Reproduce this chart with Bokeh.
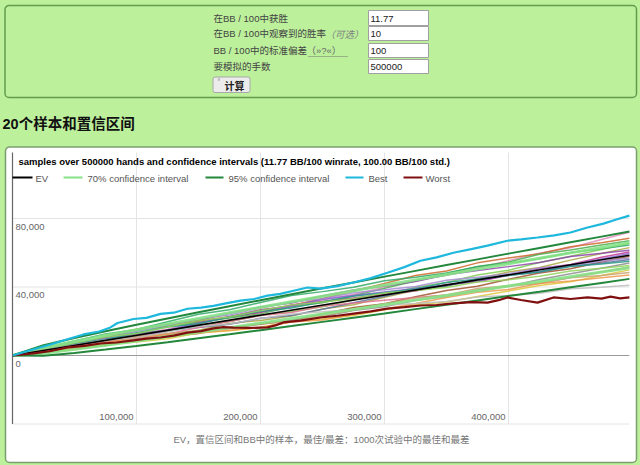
from bokeh.plotting import figure
from bokeh.models import Range1d, Quad
from bokeh.core.properties import value
from bokeh.embed import file_html
from bokeh.resources import INLINE

# ---------------- data ----------------
TITLE = "samples over 500000 hands and confidence intervals (11.77 BB/100 winrate, 100.00 BB/100 std.)"
HEADING = "20个样本和置信区间"
CAPTION = "EV，置信区间和BB中的样本，最佳/最差：1000次试验中的最佳和最差"
FORM_LABELS = ["在BB / 100中获胜", "在BB / 100中观察到的胜率", "BB / 100中的标准偏差", "要模拟的手数"]
FORM_HINTS = ["", "（可选）", "（»?«）", ""]
FORM_VALUES = ["11.77", "10", "100", "500000"]
BUTTON_TEXT = "计算"
LEGEND_NAMES = ["EV", "70% confidence interval", "95% confidence interval", "Best", "Worst"]

X_TICKS = [100000, 200000, 300000, 400000]
X_TICK_LABELS = ["100,000", "200,000", "300,000", "400,000"]
Y_TICKS = [0, 40000, 80000]
Y_TICK_LABELS = ["0", "40,000", "80,000"]

# hands (thousands)
HANDS_K = [0, 25, 50, 75, 100, 125, 150, 175, 200, 225, 250, 275, 300, 325, 350,
           375, 400, 425, 450, 475, 497.5]
# EV (thousands of BB)
EV_X_K = [0, 497.5]
EV_Y_K = [0, 58.56]
# confidence intervals (thousands of BB)
CI70_HI = [0, 4.58, 8.21, 11.67, 15.05, 18.37, 21.67, 24.93, 28.17, 31.39, 34.61, 37.80,
           40.98, 44.16, 47.33, 50.48, 53.63, 56.77, 59.92, 63.05, 65.87]
CI70_LO = [0, 1.30, 3.57, 5.99, 8.49, 11.05, 13.65, 16.27, 18.91, 21.57, 24.25, 26.94,
           29.64, 32.34, 35.07, 37.80, 40.53, 43.27, 46.02, 48.77, 51.25]
CI95_HI = [0, 6.04, 10.27, 14.20, 17.97, 21.64, 25.25, 28.80, 32.31, 35.78, 39.23, 42.65,
           46.05, 49.42, 52.80, 56.14, 59.48, 62.80, 66.12, 69.42, 72.38]
CI95_LO = [0, -0.16, 1.51, 3.46, 5.57, 7.78, 10.07, 12.40, 14.77, 17.18, 19.63, 22.09,
           24.57, 27.08, 29.60, 32.14, 34.68, 37.24, 39.82, 42.40, 44.74]

BEST_X_K = [0, 15, 30.6, 45, 57.3, 70, 79, 84.7, 97.6, 108, 119.4, 130, 141.1, 152, 162.1,
            173, 183.9, 195, 205.6, 216, 226.6, 237.9, 248.4, 262, 275, 289, 302.4, 316,
            329, 342, 355.6, 370, 383.1, 399.2, 410, 423.4, 437, 450, 463, 476.6, 487, 497.5]
BEST_Y_K = [0, 3.2, 6.4, 9.6, 12.3, 14.0, 16.4, 19.0, 21.3, 22.0, 24.3, 25.0, 27.3, 28.0, 29.0,
            30.6, 32.0, 33.0, 35.0, 36.0, 37.8, 39.7, 39.1, 40.5, 42.6, 45.2, 48.3, 51.6,
            55.3, 57.3, 60.0, 62.1, 64.2, 67.0, 67.8, 68.9, 70.1, 71.8, 74.6, 77.0, 79.4, 81.7]
WORST_X_K = [0, 16.9, 30, 44.4, 58, 71, 84, 97.6, 108, 119.4, 130, 141.1, 152, 162.1, 170,
             178.2, 192, 205.6, 212, 218.5, 232.3, 248.4, 262, 275, 289, 302.4, 316, 329,
             342, 355.6, 370, 383.1, 392, 399.2, 410, 423.4, 436.3, 450, 463.7, 475, 482.3,
             490, 497.5]
WORST_Y_K = [0, 1.2, 2.5, 4.7, 5.6, 7.0, 7.6, 8.8, 9.9, 10.5, 11.6, 13.4, 14.2, 15.8, 16.6,
             16.3, 16.1, 16.4, 17.6, 19.3, 20.4, 22.2, 23.2, 24.5, 25.8, 27.4, 28.3, 29.2,
             29.5, 30.4, 31.2, 30.9, 32.3, 33.9, 32.4, 30.9, 33.9, 33.0, 33.9, 33.2, 34.4,
             33.4, 33.9]

# 20 samples (thousands of BB at HANDS_K)
S01 = [0, 2.8, 5.7, 9.9, 12.3, 15.3, 19.7, 22.2, 25.3, 29.7, 32.4, 35.6, 39.9, 44.0, 46.8, 51.1, 55.4, 59.7, 62.9, 67.7, 72.0]
S02 = [0, 3.9, 6.6, 11.2, 15.4, 17.9, 20.2, 22.7, 26.7, 29.0, 33.3, 37.7, 42.1, 46.7, 49.4, 54.1, 56.9, 59.4, 63.5, 65.8, 68.5]
S03 = [0, 3.8, 6.1, 10.3, 14.6, 17.1, 19.3, 21.9, 24.3, 28.5, 30.8, 34.9, 39.2, 43.5, 47.9, 52.0, 54.6, 59.1, 61.6, 64.5, 67.0]
S04 = [0, 2.7, 5.4, 9.4, 11.4, 14.0, 17.8, 19.8, 23.5, 25.7, 28.4, 32.6, 35.4, 39.8, 42.6, 47.0, 49.8, 54.3, 58.0, 61.9, 65.5]
S05 = [0, 4.3, 8.5, 12.6, 15.2, 19.7, 24.1, 26.7, 31.0, 35.0, 37.3, 39.8, 43.7, 45.7, 48.2, 51.9, 54.0, 56.5, 60.2, 62.4, 64.5]
S06 = [0, 2.3, 4.5, 8.3, 10.1, 12.4, 14.8, 18.7, 20.5, 23.0, 27.1, 29.6, 34.0, 38.1, 40.5, 44.8, 48.8, 51.4, 55.7, 59.5, 63.0]
S07 = [0, 3.9, 7.7, 10.3, 14.6, 18.3, 20.5, 24.7, 28.3, 30.7, 34.7, 38.2, 40.6, 43.2, 47.2, 49.6, 51.9, 54.3, 57.8, 59.7, 61.5]
S08 = [0, 2.5, 6.4, 8.2, 10.6, 14.5, 18.7, 22.7, 25.1, 29.4, 31.5, 33.6, 35.7, 37.6, 41.4, 43.1, 46.8, 50.8, 53.2, 57.4, 60.5]
S09 = [0, 2.6, 6.6, 8.8, 10.9, 14.7, 18.8, 22.6, 26.5, 28.7, 32.8, 35.0, 37.1, 39.2, 41.1, 43.4, 47.1, 48.9, 52.8, 56.3, 59.5]
S10 = [0, 1.8, 3.8, 5.8, 9.5, 11.1, 12.9, 16.4, 18.2, 20.4, 24.3, 28.0, 30.2, 34.3, 38.0, 40.4, 44.5, 48.2, 50.6, 54.6, 58.0]
S11 = [0, 3.8, 7.5, 9.8, 14.1, 17.7, 21.4, 23.6, 27.7, 31.3, 33.2, 36.7, 38.4, 40.3, 43.9, 45.7, 47.7, 51.1, 52.9, 55.1, 57.0]
S12 = [0, 3.3, 5.3, 9.3, 12.9, 14.8, 16.4, 18.3, 21.7, 23.3, 27.0, 30.8, 34.6, 38.5, 40.6, 44.7, 46.8, 48.7, 52.2, 53.9, 56.0]
S13 = [0, 3.6, 7.0, 9.3, 13.3, 16.6, 18.6, 22.5, 25.7, 27.8, 31.4, 34.6, 36.7, 38.9, 42.6, 44.7, 46.7, 48.8, 52.0, 53.5, 55.0]
S14 = [0, 2.1, 4.2, 7.6, 9.1, 11.1, 14.3, 15.8, 18.9, 20.5, 22.6, 26.3, 28.5, 32.3, 34.5, 38.3, 40.5, 44.4, 47.7, 51.0, 54.0]
S15 = [0, 3.7, 7.3, 10.8, 12.8, 16.7, 20.4, 22.5, 26.2, 29.5, 31.3, 33.1, 36.5, 37.9, 39.7, 42.9, 44.3, 46.3, 49.4, 50.9, 52.5]
S16 = [0, 2.2, 5.8, 7.6, 9.3, 12.6, 16.4, 19.8, 23.3, 25.1, 28.8, 30.6, 32.3, 33.9, 35.4, 37.3, 40.7, 42.1, 45.6, 48.7, 51.5]
S17 = [0, 1.7, 3.5, 6.5, 7.9, 9.8, 13.1, 14.5, 16.5, 19.7, 21.3, 23.4, 26.7, 29.7, 31.3, 34.5, 37.7, 40.9, 43.0, 46.7, 50.0]
S18 = [0, 2.9, 4.6, 8.2, 11.4, 12.9, 14.1, 15.7, 18.7, 19.9, 23.3, 26.6, 30.1, 33.6, 35.3, 39.1, 40.8, 42.3, 45.4, 46.7, 48.5]
S19 = [0, 2.8, 4.1, 7.3, 10.6, 12.1, 13.3, 14.8, 16.3, 19.5, 20.7, 23.9, 27.1, 30.4, 33.9, 36.9, 38.5, 42.1, 43.5, 45.4, 47.0]
S20 = [0, 3.2, 6.1, 9.1, 10.4, 13.8, 17.0, 18.4, 21.6, 24.3, 25.5, 26.8, 29.5, 30.4, 31.6, 34.2, 35.1, 36.4, 39.0, 39.9, 41.0]
SAMPLES = [S01, S02, S03, S04, S05, S06, S07, S08, S09, S10,
           S11, S12, S13, S14, S15, S16, S17, S18, S19, S20]
SAMPLE_COLORS = ["#e08bbd", "#cc6a2c", "#4caf50", "#7ccf4f", "#2fa866", "#a8a640", "#8e44ad",
                 "#c0398f", "#8a63d2", "#a0522d", "#a58bd6", "#5d72a0", "#2a998a", "#8d8d8d",
                 "#8fd35a", "#e0708f", "#dcc83a", "#c9a273", "#eb9a4d", "#bdbdbd"]

# ---------------- styling / layout ----------------
W, H = 640, 465
BG = "#bcf09b"
K = 1000.0
X0_PX, PX_PER_100K = 12.0, 124.0       # x=0 at page px 12
Y0_PX, PX_PER_40K = 355.0, 68.5        # y=0 at page px 355
X_MIN, X_MAX = 0, 497500
Y_MIN, Y_MAX = -40000, 118500

LATIN = "Liberation Sans"
MIXED = "Liberation Sans, Noto Sans CJK SC"
CJK = "Noto Sans CJK SC"

C_EV = "#000000"
C_70 = "#86e286"
C_95 = "#23883c"
C_BEST = "#1eb8dc"
C_WORST = "#801010"

p = figure(width=W, height=H, x_range=Range1d(0, W), y_range=Range1d(H, 0),
           x_axis_location=None, y_axis_location=None, min_border=0,
           toolbar_location=None, output_backend="svg")
p.background_fill_color = BG
p.border_fill_color = BG
p.outline_line_color = None
p.grid.visible = False

xs_per_px = 100000.0 / PX_PER_100K
ys_per_px = 40000.0 / PX_PER_40K
p.extra_x_ranges = {"d": Range1d(-X0_PX * xs_per_px, (W - X0_PX) * xs_per_px)}
p.extra_y_ranges = {"d": Range1d(-(H - Y0_PX) * ys_per_px, Y0_PX * ys_per_px)}
D = dict(x_range_name="d", y_range_name="d")

rad = {"border_radius": 4} if "border_radius" in Quad.properties() else {}
rad2 = {"border_radius": 2} if "border_radius" in Quad.properties() else {}

# ---- form box ----
p.quad(left=[4.5], right=[636], top=[5], bottom=[97], fill_color=BG,
       line_color="#629c4d", line_width=1.5, **rad)
in_top = [10, 26, 43, 59]
in_bot = [25, 40, 57, 73]
p.quad(left=[368] * 4, right=[428] * 4, top=in_top, bottom=in_bot,
       fill_color="white", line_color="#a0a0a0", line_width=1)
p.text(x=[370] * 4, y=[(a + b) / 2 + 0.5 for a, b in zip(in_top, in_bot)], text=FORM_VALUES,
       text_font=value(LATIN), text_font_size=value("9.5px"), text_color="#222222",
       text_align="left", text_baseline="middle")
row_y = [18, 33, 49.5, 66]
p.text(x=[213] * 4, y=row_y, text=FORM_LABELS, text_font=value(MIXED),
       text_font_size=value("9.5px"), text_color="#444444",
       text_align="left", text_baseline="middle")
p.text(x=[325], y=[row_y[1]], text=[FORM_HINTS[1]], text_font=value(CJK),
       text_font_size=value("9.5px"), text_font_style="italic", text_color="#808080",
       text_align="left", text_baseline="middle")
p.text(x=[306], y=[row_y[2]], text=[FORM_HINTS[2]], text_font=value(MIXED),
       text_font_size=value("9.5px"), text_color="#666666",
       text_align="left", text_baseline="middle")
p.segment(x0=[308], y0=[56], x1=[348], y1=[56], line_color="#777777", line_width=1,
          line_dash="1 1")
# button
p.quad(left=[212.5], right=[249.5], top=[76.5], bottom=[92], fill_color="#ececec",
       line_color="#a8a8a8", line_width=1, **rad2)
p.text(x=[224], y=[84.5], text=[BUTTON_TEXT], text_font=value(CJK),
       text_font_size=value("10px"), text_font_style="bold", text_color="#222222",
       text_align="left", text_baseline="middle")
p.text(x=[217], y=[81], text=["°"], text_font=value(LATIN),
       text_font_size=value("7px"), text_color="#666666",
       text_align="left", text_baseline="middle")

# ---- heading ----
p.text(x=[2], y=[123], text=[HEADING], text_font=value(MIXED),
       text_font_size=value("14.5px"), text_font_style="bold", text_color="#111111",
       text_align="left", text_baseline="middle")

# ---- chart card ----
p.quad(left=[5], right=[636], top=[146.5], bottom=[462], fill_color="white",
       line_color="#7c9f70", line_width=1.5, **rad)

# grid lines (data coordinates)
p.segment(x0=X_TICKS, y0=[Y_MIN] * len(X_TICKS), x1=X_TICKS, y1=[Y_MAX] * len(X_TICKS),
          line_color="#e4e4e4", line_width=1, **D)
hy = [Y_MIN, 40000, 80000]
p.segment(x0=[X_MIN] * 3, y0=hy, x1=[X_MAX] * 3, y1=hy, line_color="#e4e4e4",
          line_width=1, **D)
p.segment(x0=[X_MIN], y0=[0], x1=[X_MAX], y1=[0], line_color="#9a9a9a", line_width=1, **D)

# samples
hx = [h * K for h in HANDS_K]
p.multi_line(xs=[hx] * len(SAMPLES), ys=[[v * K for v in s] for s in SAMPLES],
             line_color=SAMPLE_COLORS, line_alpha=0.85, line_width=1.5, **D)
# confidence intervals
for arr in (CI70_HI, CI70_LO):
    p.line(x=hx, y=[v * K for v in arr], line_color=C_70, line_alpha=0.9, line_width=3, **D)
for arr in (CI95_HI, CI95_LO):
    p.line(x=hx, y=[v * K for v in arr], line_color=C_95, line_width=2, **D)
# EV, best, worst
p.line(x=[v * K for v in EV_X_K], y=[v * K for v in EV_Y_K], line_color=C_EV, line_width=1.6, **D)
p.line(x=[v * K for v in WORST_X_K], y=[v * K for v in WORST_Y_K], line_color=C_WORST,
       line_width=2.2, **D)
p.line(x=[v * K for v in BEST_X_K], y=[v * K for v in BEST_Y_K], line_color=C_BEST,
       line_width=2.2, **D)

# left axis line
p.segment(x0=[X_MIN], y0=[Y_MIN], x1=[X_MIN], y1=[Y_MAX], line_color="#666666",
          line_width=1.2, **D)

# tick labels (inside the chart area)
p.text(x=[0] * len(Y_TICKS), y=Y_TICKS, text=Y_TICK_LABELS, x_offset=3, y_offset=8,
       text_font=value(LATIN), text_font_size=value("9.5px"), text_color="#666666",
       text_align="left", text_baseline="middle", **D)
p.text(x=X_TICKS, y=[Y_MIN] * len(X_TICKS), text=X_TICK_LABELS, x_offset=-3, y_offset=-7,
       text_font=value(LATIN), text_font_size=value("9.5px"), text_color="#666666",
       text_align="right", text_baseline="middle", **D)

# chart title
p.text(x=[18], y=[161], text=[TITLE], text_font=value(LATIN),
       text_font_size=value("9.5px"), text_font_style="bold", text_color="#000000",
       text_align="left", text_baseline="middle")

# legend
leg_x0 = [12, 63, 205, 345, 403]
leg_x1 = [32, 82, 223, 363, 422]
leg_tx = [35, 87, 228, 368, 425]
leg_col = [C_EV, C_70, C_95, C_BEST, C_WORST]
p.segment(x0=leg_x0, y0=[177] * 5, x1=leg_x1, y1=[177] * 5, line_color=leg_col, line_width=2)
p.text(x=leg_tx, y=[177.5] * 5, text=LEGEND_NAMES, text_font=value(LATIN),
       text_font_size=value("9.5px"), text_color="#555555",
       text_align="left", text_baseline="middle")

# caption
p.text(x=[321], y=[439], text=[CAPTION], text_font=value(MIXED),
       text_font_size=value("9.5px"), text_color="#777777",
       text_align="center", text_baseline="middle")

TEMPLATE = """
{% block preamble %}
<style>html, body { margin: 0 !important; padding: 0 !important; background: #bcf09b; overflow: hidden; }</style>
{% endblock %}
"""

open("out.html", "w").write(file_html(p, INLINE, template=TEMPLATE))
